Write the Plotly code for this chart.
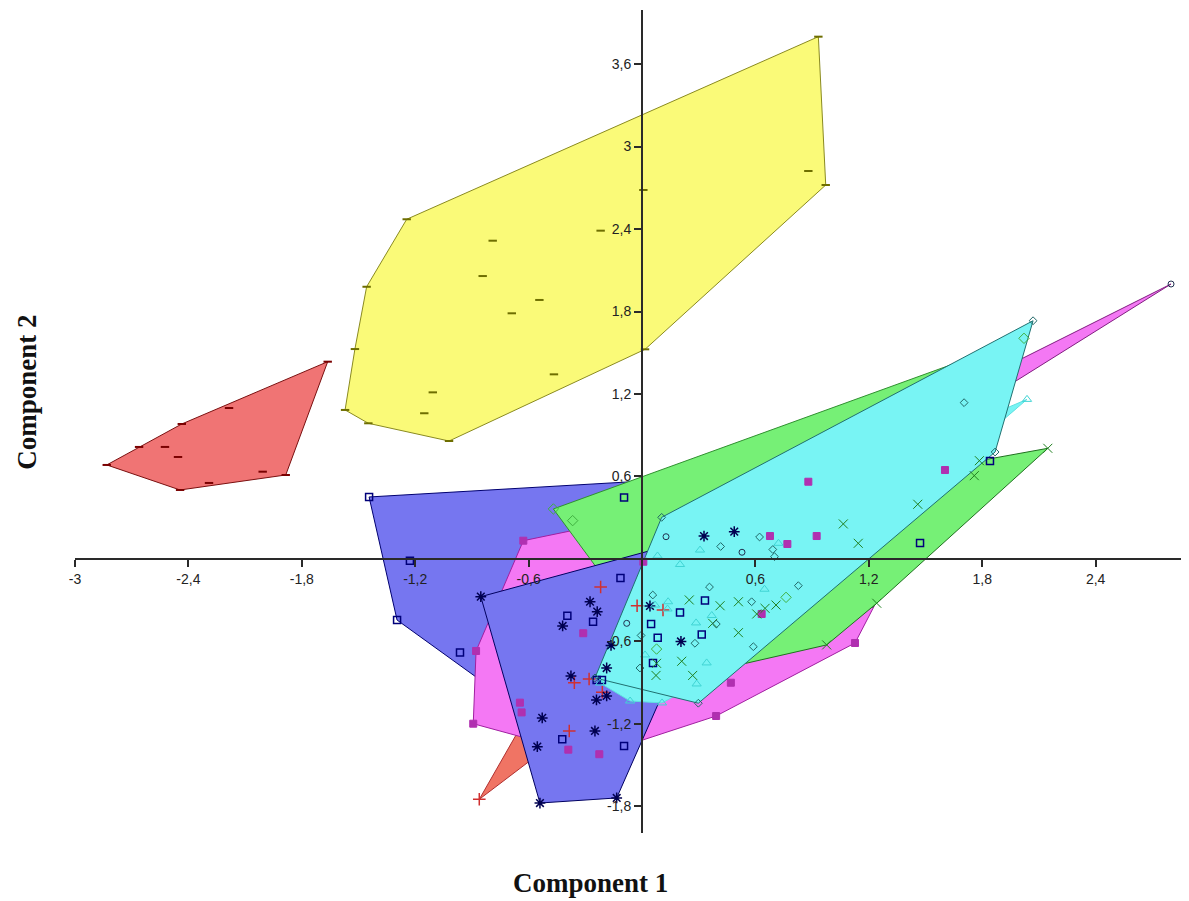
import plotly.graph_objects as go

# ---------------- data (Component 1, Component 2) ----------------
# group A: dark red dashes (left cluster)
a_x = [-2.832, -2.444, -1.885, -1.663, -2.661, -2.435, -2.185, -2.291, -2.524, -2.455, -2.007]
a_y = [0.684, 0.502, 0.611, 1.435, 0.815, 0.982, 1.098, 0.553, 0.815, 0.742, 0.635]
# group B: olive dashes (yellow cluster)
b_x = [0.933, 0.972, 0.016, -1.021, -1.448, -1.571, -1.519, -1.457, -1.245, 0.880, 0.007,
       -0.219, -0.790, -0.843, -0.543, -0.689, -0.466, -1.107, -1.152]
b_y = [3.799, 2.720, 1.525, 0.858, 0.987, 1.084, 1.527, 1.980, 2.471, 2.822, 2.684,
       2.388, 2.315, 2.058, 1.884, 1.787, 1.343, 1.212, 1.060]
# group C: red crosses
c_x = [-0.861, -0.219, -0.026, 0.111, -0.358, -0.280, -0.210, -0.385]
c_y = [-1.748, -0.204, -0.340, -0.371, -0.900, -0.873, -0.969, -1.251]
# group D: navy open squares
d_x = [-1.444, -1.228, -1.296, -0.963, -0.422, -0.095, -0.240, -0.212, 0.058, -0.095, -0.114,
       -0.395, -0.259, 0.048, 0.083, 0.201, 0.333, 0.316, 1.471, 1.841]
d_y = [0.451, -0.012, -0.444, -0.681, -1.311, -1.360, -0.880, -0.880, -0.756, 0.447, -0.138,
       -0.412, -0.456, -0.473, -0.572, -0.389, -0.302, -0.549, 0.116, 0.713]
# group E: navy asterisks
e_x = [-0.853, -0.275, -0.237, -0.420, 0.042, -0.164, -0.187, -0.376, -0.187, -0.241, -0.528,
       -0.249, -0.554, -0.540, -0.134, 0.206, 0.328, 0.488]
e_y = [-0.274, -0.311, -0.383, -0.487, -0.342, -0.629, -0.793, -0.851, -0.996, -1.025, -1.156,
       -1.251, -1.365, -1.775, -1.738, -0.600, 0.167, 0.199]
# group F: magenta filled squares
f_x = [-0.628, 0.007, -0.311, -0.878, -0.646, -0.637, -0.893, -0.390, -0.226, 0.880, 0.677,
       0.769, 0.924, 0.633, 1.127, 0.470, 0.392, 1.603]
f_y = [0.133, -0.020, -0.540, -0.669, -1.045, -1.116, -1.198, -1.387, -1.420, 0.562, 0.167,
       0.109, 0.167, -0.400, -0.611, -0.900, -1.142, 0.647]
# group G: open circles (pink hull)
g_x = [2.799, 0.127, 0.529, -0.081]
g_y = [2.000, 0.162, 0.049, -0.468]
# group H: light green open diamonds
h_x = [-0.469, -0.367, 2.021, 0.762, 0.077]
h_y = [0.364, 0.279, 1.605, -0.279, -0.655]
# group I: dark green crosses (x)
i_x = [2.147, 1.785, 1.758, 1.459, 1.065, 1.144, 0.250, 0.413, 0.510, 0.709, 0.651, 0.607,
       0.374, 0.510, 0.210, 0.077, 0.074, 0.268, 1.242, 0.977]
i_y = [0.805, 0.715, 0.606, 0.398, 0.255, 0.114, -0.298, -0.340, -0.311, -0.335, -0.359, -0.400,
       -0.468, -0.536, -0.744, -0.759, -0.847, -0.847, -0.322, -0.625]
# group J: teal small open diamonds (cyan hull)
j_x = [0.104, 2.069, 1.868, 0.298, -0.249, 0.416, 0.622, 0.692, 0.701, 0.057, 0.357, 0.580,
       0.827, -0.005, -0.011, 0.393, 1.704, 0.280, 0.589]
j_y = [0.303, 1.733, 0.778, -1.049, -0.865, 0.091, 0.160, 0.069, 0.017, -0.262, -0.204, -0.311,
       -0.194, -0.556, -0.793, -0.473, 1.137, -0.613, -0.638]
# group K: light cyan triangles
k_x = [0.082, 0.201, 0.307, 0.722, 0.138, 0.135, 0.069, 0.286, 0.369, 0.342, 0.289, 0.648,
       0.016, 2.037, -0.063, 0.106, -0.222]
k_y = [0.022, -0.040, 0.065, 0.114, -0.311, -0.364, -0.335, -0.465, -0.411, -0.756, -0.909, -0.220,
       -0.698, 1.161, -1.033, -1.047, -0.902]

x_ticks = [-3, -2.4, -1.8, -1.2, -0.6, 0.6, 1.2, 1.8, 2.4]
x_labels = ["-3", "-2,4", "-1,8", "-1,2", "-0,6", "0,6", "1,2", "1,8", "2,4"]
y_ticks = [-1.8, -1.2, -0.6, 0.6, 1.2, 1.8, 2.4, 3.0, 3.6]
y_labels = ["-1,8", "-1,2", "-0,6", "0,6", "1,2", "1,8", "2,4", "3", "3,6"]

x_range = [-3.0, 2.894]
y_range = [-1.993, 3.993]


def convex_hull(xs, ys):
    pts = sorted(set(zip(xs, ys)))
    if len(pts) < 3:
        return [p[0] for p in pts], [p[1] for p in pts]

    def cross(o, a, b):
        return (a[0] - o[0]) * (b[1] - o[1]) - (a[1] - o[1]) * (b[0] - o[0])

    lower = []
    for p in pts:
        while len(lower) >= 2 and cross(lower[-2], lower[-1], p) <= 0:
            lower.pop()
        lower.append(p)
    upper = []
    for p in reversed(pts):
        while len(upper) >= 2 and cross(upper[-2], upper[-1], p) <= 0:
            upper.pop()
        upper.append(p)
    h = lower[:-1] + upper[:-1]
    h.append(h[0])
    return [p[0] for p in h], [p[1] for p in h]


# (x, y, fill, outline, marker symbol, marker colour, size, line width) in drawing order
groups = [
    (a_x, a_y, "#F07474", "#7A1010", "line-ew", "#7A0000", 6, 2),
    (b_x, b_y, "#FAFA78", "#8A8A20", "line-ew", "#6E6E00", 6, 2),
    (c_x, c_y, "#F07464", "#B03030", "cross-thin", "#D03030", 9, 1.5),
    (d_x, d_y, "#7676F0", "#000070", "square-open", "#00007A", 7, 1.5),
    (f_x, f_y, "#F478F4", "#A020A0", "square", "#B030B0", 7, 1),
    (g_x, g_y, "#F478F4", "#802080", "circle-open", "#203050", 6, 1),
    (h_x, h_y, "#76F076", "#309030", "diamond-open", "#40B040", 8, 1),
    (i_x, i_y, "#76F076", "#207020", "x-thin", "#208020", 9, 1),
    (e_x, e_y, "#7676F0", "#000060", "asterisk", "#000050", 9, 1.5),
    (k_x, k_y, "#78F4F4", "#60E0E0", "triangle-up-open", "#40D4D4", 8, 1),
    (j_x, j_y, "#78F4F4", "#207070", "diamond-open", "#206868", 6, 1),
]

fig = go.Figure()
for gx, gy, fill, outline, sym, mcol, msize, mlw in groups:
    hx, hy = convex_hull(gx, gy)
    fig.add_trace(go.Scatter(x=hx, y=hy, mode="lines", fill="toself", fillcolor=fill,
                             line=dict(color=outline, width=1), hoverinfo="skip"))
for gx, gy, fill, outline, sym, mcol, msize, mlw in groups:
    fig.add_trace(go.Scatter(x=gx, y=gy, mode="markers",
                             marker=dict(symbol=sym, size=msize, color=mcol,
                                         line=dict(color=mcol, width=mlw))))

x_pos = (0 - y_range[0]) / (y_range[1] - y_range[0])
y_pos = (0 - x_range[0]) / (x_range[1] - x_range[0])

axis_common = dict(showgrid=False, zeroline=False, showline=True, linecolor="#2a2a2a", linewidth=2,
                   ticks="outside", ticklen=7, tickwidth=1.5, tickcolor="#2a2a2a",
                   tickfont=dict(family="Liberation Sans, Arial", size=14, color="#222222"),
                   anchor="free")

# the page adds an 8 px body margin, so the figure is 8 px smaller and shifted
fig.update_layout(
    width=1181, height=893,
    margin=dict(l=67, r=0, t=2, b=68),
    paper_bgcolor="white", plot_bgcolor="white",
    showlegend=False,
    xaxis=dict(range=x_range, tickvals=x_ticks, ticktext=x_labels, position=x_pos, **axis_common),
    yaxis=dict(range=y_range, tickvals=y_ticks, ticktext=y_labels, position=y_pos, **axis_common),
    annotations=[
        dict(text="<b>Component 1</b>", xref="paper", yref="paper", x=0.463, y=-0.061,
             xanchor="center", yanchor="middle", showarrow=False,
             font=dict(family="Liberation Serif, Times New Roman", size=27, color="#111111")),
        dict(text="<b>Component 2</b>", xref="paper", yref="paper", x=-0.043, y=0.535,
             xanchor="center", yanchor="middle", showarrow=False, textangle=-90,
             font=dict(family="Liberation Serif, Times New Roman", size=27, color="#111111")),
    ],
)

fig.write_html("out.html")
